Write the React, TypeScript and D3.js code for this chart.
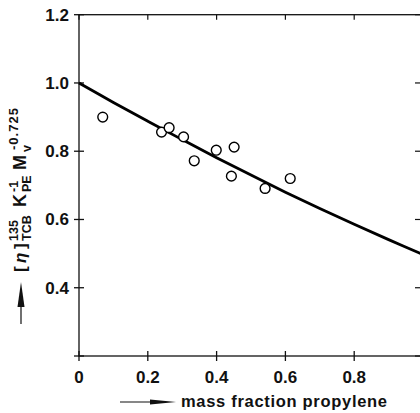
import React, { useEffect, useRef } from 'react';
import * as d3 from 'd3';

// measured points (mass fraction propylene vs reduced intrinsic viscosity)
const pointX = [0.069, 0.240, 0.262, 0.304, 0.335, 0.399, 0.443, 0.451, 0.541, 0.614];
const pointY = [0.900, 0.856, 0.869, 0.842, 0.772, 0.803, 0.727, 0.812, 0.691, 0.720];

// fitted curve
const curveX = [0, 0.1, 0.2, 0.3, 0.4, 0.5, 0.6, 0.7, 0.8, 0.9, 1.0];
const curveY = [1.0, 0.943, 0.888, 0.834, 0.781, 0.730, 0.680, 0.632, 0.586, 0.541, 0.497];

const xTicks = [0, 0.2, 0.4, 0.6, 0.8, 1.0];
const xTickLabels = ['0', '0.2', '0.4', '0.6', '0.8'];
const yTicks = [0.2, 0.4, 0.6, 0.8, 1.0, 1.2];
const yTickLabels = ['0.4', '0.6', '0.8', '1.0', '1.2'];

const FONT = '"Liberation Sans", Arial, Helvetica, sans-serif';

export default function App() {
  const svgRef = useRef<SVGSVGElement>(null);

  useEffect(() => {
    if (!svgRef.current) return;
    const svg = d3.select(svgRef.current);
    svg.selectAll('*').remove();

    const x = d3.scaleLinear().domain([0, 1]).range([79, 423]);
    const y = d3.scaleLinear().domain([0.2, 1.2]).range([356, 14.7]);

    const g = svg.append('g');

    // frame
    g.append('rect')
      .attr('x', x(0)).attr('y', y(1.2))
      .attr('width', x(1) - x(0)).attr('height', y(0.2) - y(1.2))
      .style('fill', 'none').style('stroke', '#111').style('stroke-width', 1.3);

    // bottom ticks (crossing)
    g.selectAll('.xt').data(xTicks).enter().append('line')
      .attr('x1', d => x(d)).attr('x2', d => x(d))
      .attr('y1', y(0.2) - 5).attr('y2', y(0.2) + 5)
      .style('stroke', '#111').style('stroke-width', 1.3);
    // top ticks (inward)
    g.selectAll('.xtt').data(xTicks).enter().append('line')
      .attr('x1', d => x(d)).attr('x2', d => x(d))
      .attr('y1', y(1.2)).attr('y2', y(1.2) + 5)
      .style('stroke', '#111').style('stroke-width', 1.2);
    // left ticks (crossing)
    g.selectAll('.yt').data(yTicks).enter().append('line')
      .attr('x1', x(0) - 5).attr('x2', x(0) + 5)
      .attr('y1', d => y(d)).attr('y2', d => y(d))
      .style('stroke', '#111').style('stroke-width', 1.3);
    // right ticks (inward)
    g.selectAll('.ytr').data(yTicks).enter().append('line')
      .attr('x1', x(1) - 8).attr('x2', x(1))
      .attr('y1', d => y(d)).attr('y2', d => y(d))
      .style('stroke', '#111').style('stroke-width', 1.2);

    // tick labels
    g.selectAll('.xl').data(xTickLabels).enter().append('text')
      .attr('x', d => x(+d)).attr('y', 383)
      .attr('text-anchor', 'middle')
      .style('font-family', FONT).style('font-size', '17px').style('font-weight', 700)
      .style('fill', '#111')
      .text(d => d);
    g.selectAll('.yl').data(yTickLabels).enter().append('text')
      .attr('x', 69).attr('y', d => y(+d) + 6)
      .attr('text-anchor', 'end')
      .style('font-family', FONT).style('font-size', '17px').style('font-weight', 700)
      .style('fill', '#111')
      .text(d => d);

    // curve
    const line = d3.line<number>()
      .x((_, i) => x(curveX[i]))
      .y(d => y(d))
      .curve(d3.curveCatmullRom);
    g.append('path')
      .attr('d', line(curveY))
      .style('fill', 'none').style('stroke', '#000').style('stroke-width', 2.8);

    // points
    g.selectAll('.pt').data(pointY).enter().append('circle')
      .attr('cx', (_, i) => x(pointX[i])).attr('cy', d => y(d))
      .attr('r', 4.9)
      .style('fill', '#fff').style('stroke', '#000').style('stroke-width', 1.4);

    // x axis title with arrow
    const xa = svg.append('g');
    xa.append('line')
      .attr('x1', 120).attr('x2', 160).attr('y1', 402).attr('y2', 402)
      .style('stroke', '#111').style('stroke-width', 1.2);
    xa.append('path')
      .attr('d', 'M150,399.5 L176,402 L150,404.5 Z')
      .style('fill', '#111');
    xa.append('text')
      .attr('x', 181).attr('y', 407)
      .attr('textLength', 206).attr('lengthAdjust', 'spacing')
      .style('font-family', FONT).style('font-size', '16.5px').style('font-weight', 700)
      .style('fill', '#111')
      .text('mass fraction propylene');

    // y axis title (rotated), arrow then [η]^135_TCB K_PE^-1 M_v^-0.725
    const ya = svg.append('g').attr('transform', 'translate(26,0) rotate(-90)');
    ya.append('line')
      .attr('x1', -324).attr('x2', -292).attr('y1', -5).attr('y2', -5)
      .style('stroke', '#111').style('stroke-width', 1.2);
    ya.append('path')
      .attr('d', 'M-307,-8.5 L-282,-5 L-307,-1.5 Z')
      .style('fill', '#111');

    const pieces = [
      { t: '[', at: 272, dy: 0, size: 17, italic: false },
      { t: 'η', at: 263, dy: 0, size: 17, italic: true },
      { t: ']', at: 249, dy: 0, size: 17, italic: false },
      { t: '135', at: 241, dy: -8, size: 12.5, italic: false },
      { t: 'TCB', at: 241, dy: 5, size: 12.5, italic: false },
      { t: 'K', at: 207, dy: 0, size: 18, italic: false },
      { t: '-1', at: 192, dy: -8, size: 12.5, italic: false },
      { t: 'PE', at: 192, dy: 5, size: 12.5, italic: false },
      { t: 'M', at: 170, dy: 0, size: 18, italic: false },
      { t: 'v', at: 152, dy: 5, size: 12.5, italic: false },
      { t: '-0.725', at: 150, dy: -8, size: 13, italic: false },
    ];
    ya.selectAll('.yp').data(pieces).enter().append('text')
      .attr('x', d => -d.at).attr('y', d => d.dy)
      .style('font-family', FONT)
      .style('font-size', d => `${d.size}px`)
      .style('font-weight', 700)
      .style('font-style', d => (d.italic ? 'italic' : 'normal'))
      .style('letter-spacing', d => (d.t === '-0.725' ? '1px' : '0px'))
      .style('fill', '#111')
      .text(d => d.t);
  }, []);

  return (
    <svg
      ref={svgRef}
      width={420}
      height={413}
      style={{ position: 'absolute', left: 0, top: 0, background: '#fff' }}
    />
  );
}
